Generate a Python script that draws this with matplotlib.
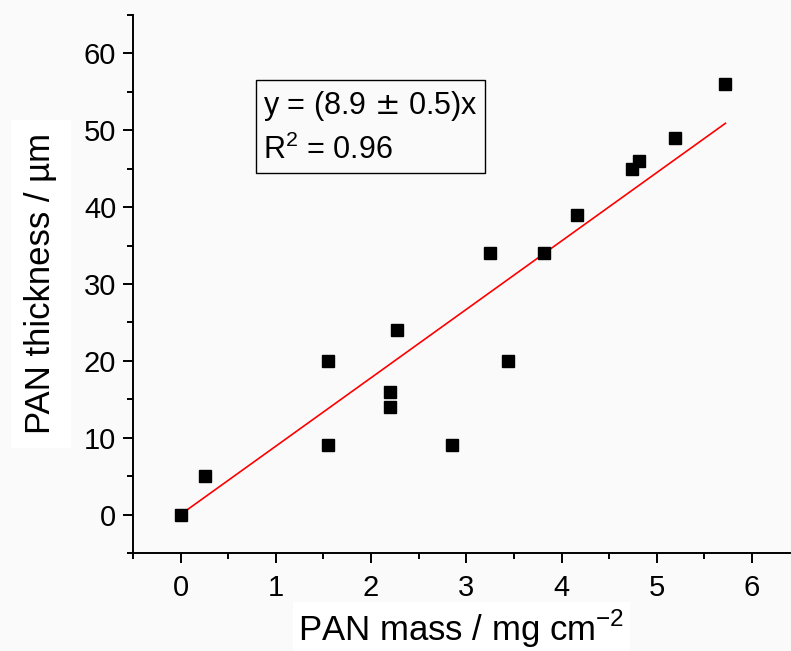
import numpy as np
import matplotlib.pyplot as plt

plt.rcParams['font.family'] = ['Liberation Sans', 'DejaVu Sans']

# PAN mass (mg cm-2) and thickness (um)
mass = [0.0, 0.26, 1.55, 1.55, 2.2, 2.2, 2.27, 2.85, 3.25, 3.44, 3.82, 4.16, 4.74, 4.81, 5.19, 5.72]
thickness = [0, 5, 20, 9, 16, 14, 24, 9, 34, 20, 34, 39, 45, 46, 49, 56]
slope = 8.9
fit_x = [0.0, 5.72]

fig = plt.figure(figsize=(7.91, 6.51), dpi=100, facecolor='#fafafa')
ax = fig.add_axes([0.168, 0.1505, 0.831, 0.8265])
ax.set_facecolor('#fafafa')

ax.plot(mass, thickness, 's', color='black', markersize=8.5, zorder=3)
fx = np.array(fit_x)
ax.plot(fx, slope * fx, color='red', linewidth=1.2, zorder=2)

ax.set_xlim(-0.5, 6.4)
ax.set_ylim(-5, 65)
ax.set_xticks(range(0, 7))
ax.set_xticks(np.arange(-0.5, 6.5, 0.5), minor=True)
ax.set_yticks(range(0, 70, 10))
ax.set_yticks(range(-5, 66, 5), minor=True)

for s in ['top', 'right']:
    ax.spines[s].set_visible(False)
for s in ['left', 'bottom']:
    ax.spines[s].set_linewidth(1.4)

ax.tick_params(which='major', length=7, width=1.4, labelsize=21, direction='out')
ax.tick_params(which='minor', length=4, width=1.4, direction='out')
ax.tick_params(axis='x', which='major', pad=8)
ax.tick_params(axis='y', which='major', pad=5)

ax.set_xlabel('PAN mass / mg cm$^{\\mathregular{-2}}$', fontsize=25, labelpad=4,
              bbox=dict(facecolor='white', edgecolor='none', pad=4))
ax.set_ylabel('PAN thickness / µm', fontsize=25, labelpad=19,
              bbox=dict(facecolor='white', edgecolor='none', pad=10))

ax.text(0.198, 0.863, 'y = (8.9 $\\pm$ 0.5)x\nR$^{\\mathregular{2}}$ = 0.96', transform=ax.transAxes,
        fontsize=22, va='top', ha='left', linespacing=1.5,
        bbox=dict(facecolor='#fafafa', edgecolor='black', linewidth=1.0, pad=5))

fig.savefig('out.png', dpi=100, facecolor=fig.get_facecolor())
